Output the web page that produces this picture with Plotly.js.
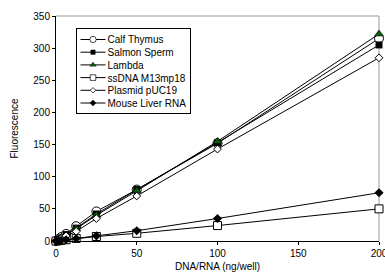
<!DOCTYPE html>
<html><head><meta charset="utf-8">
<script src="https://cdn.plot.ly/plotly-3.0.1.min.js"></script>
<style>html,body{margin:0;padding:0;background:#fff;overflow:hidden}#c{width:385px;height:273px}</style>
</head><body><div id="c"></div>
<script>
const xVals = [0, 1.56, 3.125, 6.25, 12.5, 25, 50, 100, 200];
const seriesNames = ["Calf Thymus", "Salmon Sperm", "Lambda", "ssDNA M13mp18", "Plasmid pUC19", "Mouse Liver RNA"];
const calfThymus = [0, 3, 6, 11, 23, 46, 80, 152, 315];
const salmonSperm = [0, 2, 5, 10, 20, 42, 80, 153, 305];
const lambda = [0, 2, 5, 9, 19, 40, 78, 155, 322];
const ssDNA = [0, 0.5, 1, 2, 4, 7, 12, 24, 50];
const plasmid = [0, 2, 4, 8, 15, 35, 70, 143, 285];
const mouseLiver = [0, 0.5, 1, 2, 4, 8, 16, 35, 75];
const xTicks = [0, 50, 100, 150, 200];
const yTicks = [0, 50, 100, 150, 200, 250, 300, 350];

const values = [calfThymus, salmonSperm, lambda, ssDNA, plasmid, mouseLiver];
const markers = [
  {symbol:"circle", size:9, color:"#fff", line:{width:1, color:"#000"}},
  {symbol:"square", size:7, color:"#000"},
  {symbol:"triangle-up", size:8, color:"#0b5a0b", line:{width:0.5,color:"#000"}},
  {symbol:"square", size:8, color:"#fff", line:{width:1, color:"#000"}},
  {symbol:"diamond", size:6, color:"#fff", line:{width:1, color:"#000"}},
  {symbol:"diamond", size:7, color:"#000"}
];
const data = seriesNames.map((n,i)=>({
  x: xVals, y: values[i], name: n, type:"scatter", mode:"lines+markers",
  line:{color:"#000", width:1}, marker: markers[i], cliponaxis:false
}));

const layout = {
  width:385, height:273,
  margin:{l:56, r:6, t:16, b:32},
  paper_bgcolor:"#fff", plot_bgcolor:"#fff",
  font:{family:"Liberation Sans, Arial, sans-serif", size:10, color:"#000"},
  showlegend:true,
  legend:{x:0.06, y:0.95, xanchor:"left", yanchor:"top", bgcolor:"#fff", bordercolor:"#000", borderwidth:1,
    font:{size:10}, tracegroupgap:0, itemwidth:30},
  xaxis:{range:[0,200], tickvals:xTicks, ticktext:xTicks.map(String), showgrid:false, zeroline:false,
    showline:true, linecolor:"#000", linewidth:1, ticks:"outside", ticklen:3, tickcolor:"#000",
    ticklabeloverflow:"allow",
    title:{text:"DNA/RNA (ng/well)", font:{size:10}, standoff:4}},
  yaxis:{range:[0,350], tickvals:yTicks, ticktext:yTicks.map(String), showgrid:false, zeroline:false,
    showline:true, linecolor:"#000", linewidth:1, ticks:"outside", ticklen:3, tickcolor:"#000",
    title:{text:"Fluorescence", font:{size:10}, standoff:12}},
  shapes:[
    {type:"line", xref:"paper", yref:"paper", x0:0, x1:1, y0:1, y1:1, line:{color:"#999", width:1}, layer:"below"},
    {type:"line", xref:"paper", yref:"paper", x0:1, x1:1, y0:0, y1:1, line:{color:"#999", width:1}, layer:"below"}
  ]
};
Plotly.newPlot("c", data, layout, {displayModeBar:false, staticPlot:true}).then(()=>{
  // compact the legend to match the reference's tight Excel-style legend
  const leg = document.querySelector('g.legend');
  if(!leg) return;
  const rowH = 12.7, top = 11, lineX0 = 4, lineLen = 25, textX = 31;
  leg.setAttribute('transform','translate(76.5,28.5)');
  const sb = leg.querySelector('g.scrollbox');
  if(sb){ sb.setAttribute('transform',''); sb.removeAttribute('clip-path'); }
  leg.querySelectorAll('g.groups').forEach(g=>g.setAttribute('transform',''));
  const items = leg.querySelectorAll('g.traces');
  let maxW = 0;
  items.forEach((it,i)=>{
    it.setAttribute('transform','translate(0,'+(top+i*rowH)+')');
    it.querySelectorAll('g.legendlines path').forEach(p=>p.setAttribute('d','M'+lineX0+',0h'+lineLen));
    it.querySelectorAll('g.legendsymbols path').forEach(p=>p.setAttribute('transform','translate('+(lineX0+lineLen/2)+',0) scale(0.7)'));
    const t = it.querySelector('text.legendtext');
    if(t){ t.setAttribute('x', textX); maxW = Math.max(maxW, t.getBBox().width); }
    const r = it.querySelector('rect.legendtoggle'); if(r) r.remove();
  });
  const bg = leg.querySelector('rect.bg');
  if(bg){
    bg.setAttribute('x',0); bg.setAttribute('y',0);
    bg.setAttribute('width', textX+maxW+4);
    bg.setAttribute('height', top+(items.length-1)*rowH+10);
  }
});
</script></body></html>
